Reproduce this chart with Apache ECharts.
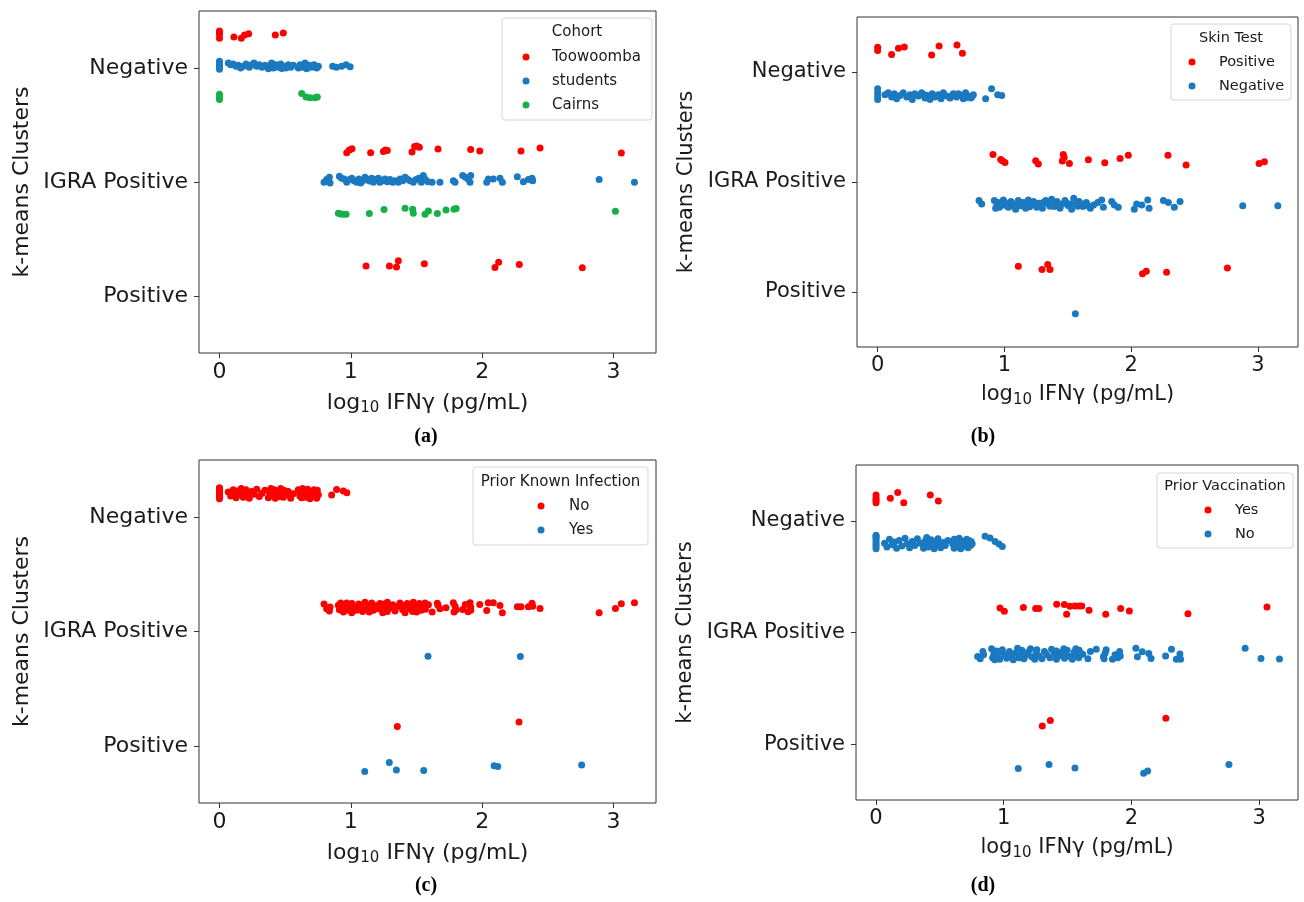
<!DOCTYPE html>
<html>
<head>
<meta charset="utf-8">
<script src="https://cdn.jsdelivr.net/npm/echarts@6/dist/echarts.min.js"></script>
<style>
  html, body { margin: 0; padding: 0; background: #fff; }
  #chart { width: 1304px; height: 902px; }
</style>
</head>
<body>
<div id="chart"></div>
<script>
// categorías del eje y y marcas del eje x
const clusterNames = ['Negative', 'IGRA Positive', 'Positive'];
const clusterTicks = [0, 1, 2];
const xTicks = [0, 1, 2, 3];

// cada punto: [log10 IFNγ, desplazamiento vertical respecto al centro del cluster]
// (a) Cohort
const aNegToowoomba = [[0,-0.325],[0,-0.295],[0,-0.26],[0,-0.31],[0.110,-0.271],[0.166,-0.26],[0.191,-0.289],[0.222,-0.301],[0.425,-0.289],[0.486,-0.307]];
const aNegStudents = [[0,-0.059],[0,-0.035],[0,-0.012],[0,0.012],[0,-0.024],
  [0.067,-0.044],[0.085,-0.029],[0.105,-0.035],[0.126,-0.015],[0.143,-0.024],[0.161,0],[0.181,-0.015],[0.202,-0.035],[0.227,-0.006],[0.245,-0.029],
  [0.263,-0.044],[0.283,-0.015],[0.303,-0.029],[0.324,-0.006],[0.347,-0.024],[0.372,0.006],[0.385,-0.015],[0.392,-0.03],[0.397,-0.044],[0.410,0],
  [0.418,-0.01],[0.430,-0.029],[0.448,-0.006],[0.455,-0.02],[0.466,-0.035],[0.475,0.004],[0.486,-0.015],[0.506,0],[0.524,-0.029],[0.542,-0.006],
  [0.562,-0.024],[0.600,0],[0.612,-0.012],[0.613,-0.029],[0.633,-0.006],[0.645,-0.03],[0.651,-0.044],[0.664,0.006],[0.672,-0.008],[0.684,-0.024],
  [0.702,-0.006],[0.710,-0.02],[0.720,-0.029],[0.728,-0.012],[0.740,0],[0.753,-0.015],[0.862,-0.015],[0.890,-0.006],[0.930,-0.015],[0.964,-0.029],[0.995,-0.012]];
const aNegCairns = [[0,0.230],[0,0.254],[0,0.277],[0.626,0.224],[0.659,0.254],[0.689,0.260],[0.727,0.260],[0.745,0.254]];
const aIgraToowoomba = [[0.969,-0.257],[0.989,-0.280],[1.009,-0.292],[1.151,-0.257],[1.248,-0.268],[1.263,-0.280],[1.278,-0.277],[1.466,-0.263],[1.486,-0.312],
  [1.502,-0.316],[1.522,-0.304],[1.664,-0.289],[1.913,-0.286],[1.982,-0.271],[2.296,-0.271],[2.441,-0.298],[3.060,-0.254]];
const aIgraStudents = [[0.796,0.003],[0.816,-0.021],[0.837,-0.041],[0.842,0.009],[0.913,-0.050],[0.930,-0.032],[0.948,-0.027],[0.969,0.003],[0.989,-0.021],
  [1.007,-0.032],[1.024,-0.012],[1.045,0.003],[1.060,-0.027],[1.075,0.009],[1.090,-0.012],[1.108,-0.041],[1.121,-0.027],[1.141,-0.009],[1.159,-0.032],
  [1.172,0.003],[1.192,-0.021],[1.210,-0.032],[1.222,0.003],[1.243,-0.012],[1.260,-0.027],[1.278,-0.003],[1.299,-0.021],[1.319,0.003],[1.337,-0.012],
  [1.362,0.003],[1.375,-0.027],[1.395,-0.012],[1.413,-0.041],[1.430,-0.027],[1.451,-0.012],[1.476,0.003],[1.497,-0.021],[1.517,-0.032],[1.537,0.003],
  [1.552,-0.056],[1.568,-0.021],[1.588,-0.003],[1.619,0.003],[1.679,0.003],[1.781,-0.012],[1.794,0.003],[1.852,-0.056],[1.872,-0.041],[1.893,-0.027],
  [1.908,0.003],[1.913,-0.056],[2.035,0.003],[2.047,-0.027],[2.085,-0.027],[2.136,-0.032],[2.154,0.003],[2.268,-0.047],[2.314,-0.003],[2.352,-0.021],
  [2.380,-0.032],[2.385,-0.012],[2.891,-0.021],[3.160,0.003]];
const aIgraCairns = [[0.905,0.274],[0.923,0.280],[0.943,0.283],[0.964,0.283],[1.141,0.277],[1.253,0.242],[1.413,0.230],[1.471,0.239],[1.476,0.274],
  [1.565,0.283],[1.591,0.254],[1.659,0.277],[1.725,0.245],[1.786,0.239],[1.802,0.233],[3.015,0.257]];
const aPosToowoomba = [[1.116,-0.263],[1.294,-0.263],[1.348,-0.254],[1.362,-0.310],[1.560,-0.283],[2.098,-0.250],[2.126,-0.295],[2.283,-0.277],[2.763,-0.248]];

// (b) Skin Test
const bNegPositive = [[0,-0.225],[0,-0.195],[0.110,-0.158],[0.164,-0.216],[0.210,-0.228],[0.426,-0.155],[0.485,-0.237],[0.626,-0.246],[0.669,-0.170]];
const bNegNegative = [[0,0.152],[0,0.188],[0,0.219],[0,0.249],
  [0.058,0.207],[0.084,0.188],[0.110,0.228],[0.131,0.198],[0.150,0.243],[0.176,0.213],[0.202,0.188],[0.229,0.228],[0.255,0.207],[0.273,0.249],
  [0.294,0.198],[0.321,0.219],[0.347,0.188],[0.365,0.205],[0.373,0.237],[0.394,0.213],[0.413,0.249],[0.431,0.198],[0.442,0.215],[0.452,0.228],
  [0.479,0.207],[0.490,0.222],[0.500,0.243],[0.518,0.188],[0.544,0.219],[0.571,0.237],[0.585,0.215],[0.597,0.198],[0.623,0.228],[0.635,0.198],
  [0.650,0.207],[0.676,0.243],[0.694,0.188],[0.705,0.232],[0.715,0.219],[0.736,0.237],[0.745,0.222],[0.755,0.207],[0.852,0.243],[0.899,0.152],
  [0.947,0.207],[0.979,0.213]];
const bIgraPositive = [[0.910,-0.250],[0.971,-0.205],[0.984,-0.193],[1.005,-0.178],[1.247,-0.193],[1.268,-0.163],[1.465,-0.250],[1.471,-0.223],[1.457,-0.190],
  [1.513,-0.169],[1.663,-0.202],[1.792,-0.175],[1.913,-0.214],[1.978,-0.244],[2.291,-0.244],[2.434,-0.154],[3.010,-0.169],[3.052,-0.184]];
const bIgraNegative = [[0.800,0.169],[0.821,0.199],[0.921,0.169],[0.931,0.238],[0.940,0.2],[0.952,0.187],[0.960,0.23],[0.973,0.217],[0.992,0.163],
  [1.000,0.18],[1.010,0.199],[1.020,0.215],[1.031,0.229],[1.052,0.178],[1.060,0.195],[1.070,0.208],[1.080,0.23],[1.089,0.247],[1.110,0.169],
  [1.120,0.2],[1.131,0.217],[1.149,0.187],[1.160,0.21],[1.168,0.238],[1.189,0.163],[1.200,0.225],[1.210,0.208],[1.231,0.178],[1.240,0.2],
  [1.255,0.229],[1.273,0.193],[1.290,0.215],[1.300,0.238],[1.310,0.185],[1.326,0.169],[1.347,0.199],[1.360,0.22],[1.373,0.157],[1.394,0.223],
  [1.400,0.2],[1.415,0.178],[1.430,0.215],[1.439,0.238],[1.457,0.199],[1.478,0.169],[1.490,0.19],[1.505,0.217],[1.520,0.2],[1.531,0.247],
  [1.547,0.148],[1.568,0.199],[1.580,0.22],[1.589,0.178],[1.610,0.2],[1.620,0.223],[1.647,0.187],[1.660,0.215],[1.678,0.238],[1.704,0.208],
  [1.736,0.187],[1.768,0.163],[1.781,0.229],[1.847,0.178],[1.868,0.208],[1.899,0.229],[2.025,0.247],[2.044,0.199],[2.084,0.208],[2.131,0.163],
  [2.142,0.238],[2.255,0.169],[2.294,0.187],[2.341,0.229],[2.386,0.178],[2.881,0.217],[3.158,0.217]];
const bPosPositive = [[1.110,-0.234],[1.297,-0.204],[1.342,-0.249],[1.360,-0.204],[2.090,-0.167],[2.120,-0.188],[2.280,-0.179],[2.760,-0.219]];
const bPosNegative = [[1.560,0.197]];

// (c) Prior Known Infection
const cNegNo = [[0,-0.258],[0,-0.243],[0,-0.229],[0,-0.214],[0,-0.2],[0,-0.186],[0,-0.172],[0,-0.16],[0,-0.25],[0,-0.192],
  [0.067,-0.22],[0.085,-0.185],[0.105,-0.24],[0.110,-0.205],[0.126,-0.17],[0.143,-0.23],[0.161,-0.195],[0.166,-0.25],[0.181,-0.175],[0.191,-0.215],
  [0.202,-0.24],[0.222,-0.19],[0.227,-0.165],[0.245,-0.225],[0.263,-0.2],[0.283,-0.245],[0.303,-0.18],[0.324,-0.21],[0.347,-0.235],[0.372,-0.17],
  [0.385,-0.2],[0.392,-0.25],[0.397,-0.22],[0.410,-0.185],[0.418,-0.24],[0.425,-0.165],[0.430,-0.205],[0.448,-0.23],[0.455,-0.18],[0.466,-0.25],
  [0.475,-0.21],[0.486,-0.175],[0.490,-0.235],[0.506,-0.195],[0.524,-0.225],[0.542,-0.165],[0.562,-0.205],[0.600,-0.24],[0.612,-0.185],[0.613,-0.215],
  [0.626,-0.17],[0.633,-0.25],[0.645,-0.2],[0.651,-0.23],[0.659,-0.175],[0.664,-0.21],[0.672,-0.245],[0.684,-0.19],[0.689,-0.16],[0.702,-0.225],
  [0.710,-0.2],[0.720,-0.24],[0.727,-0.18],[0.728,-0.215],[0.740,-0.165],[0.745,-0.235],[0.753,-0.195],[0.854,-0.193],[0.892,-0.242],[0.943,-0.228],
  [0.970,-0.213]];
const cIgraNo = [[0.796,-0.24],[0.816,-0.2],[0.837,-0.18],[0.842,-0.215],[0.905,-0.23],[0.913,-0.19],[0.923,-0.25],[0.930,-0.205],[0.943,-0.17],
  [0.948,-0.235],[0.964,-0.215],[0.969,-0.185],[0.969,-0.25],[0.989,-0.2],[0.989,-0.23],[1.007,-0.165],[1.009,-0.245],[1.024,-0.21],[1.045,-0.185],
  [1.060,-0.24],[1.075,-0.22],[1.090,-0.175],[1.108,-0.255],[1.121,-0.2],[1.141,-0.23],[1.141,-0.17],[1.151,-0.21],[1.159,-0.25],[1.172,-0.185],
  [1.192,-0.225],[1.210,-0.2],[1.222,-0.245],[1.243,-0.165],[1.248,-0.215],[1.253,-0.24],[1.260,-0.19],[1.263,-0.23],[1.278,-0.175],[1.278,-0.255],
  [1.299,-0.205],[1.319,-0.235],[1.337,-0.18],[1.362,-0.22],[1.375,-0.25],[1.395,-0.19],[1.413,-0.225],[1.413,-0.165],[1.430,-0.245],[1.451,-0.2],
  [1.466,-0.235],[1.471,-0.175],[1.476,-0.215],[1.476,-0.255],[1.486,-0.19],[1.497,-0.23],[1.502,-0.17],[1.517,-0.21],[1.522,-0.245],[1.537,-0.185],
  [1.552,-0.225],[1.565,-0.25],[1.568,-0.195],[1.591,-0.235],[1.619,-0.17],[1.659,-0.246],[1.664,-0.23],[1.679,-0.2],[1.725,-0.208],[1.781,-0.251],
  [1.786,-0.170],[1.794,-0.22],[1.802,-0.19],[1.852,-0.193],[1.872,-0.237],[1.893,-0.173],[1.908,-0.251],[1.913,-0.215],[1.913,-0.185],[1.982,-0.237],
  [2.035,-0.184],[2.047,-0.251],[2.085,-0.251],[2.136,-0.228],[2.154,-0.164],[2.268,-0.216],[2.296,-0.216],[2.352,-0.216],[2.380,-0.246],[2.385,-0.22],
  [2.441,-0.202],[2.891,-0.164],[3.015,-0.202],[3.060,-0.243],[3.160,-0.252]];
const cIgraYes = [[1.588,0.216],[2.291,0.218]];
const cPosNo = [[1.354,-0.170],[2.281,-0.208]];
const cPosYes = [[1.106,0.225],[1.293,0.146],[1.347,0.211],[1.555,0.216],[2.091,0.175],[2.119,0.181],[2.758,0.167]];

// (d) Prior Vaccination
const dNegYes = [[0,-0.232],[0,-0.202],[0,-0.163],[0,-0.184],[0.112,-0.202],[0.170,-0.253],[0.217,-0.163],[0.425,-0.232],[0.488,-0.178]];
const dNegNo = [[0,0.13],[0,0.15],[0,0.17],[0,0.19],[0,0.21],[0,0.23],[0,0.25],[0,0.14],
  [0.067,0.2],[0.085,0.235],[0.105,0.165],[0.126,0.215],[0.143,0.19],[0.161,0.245],[0.181,0.175],[0.202,0.225],[0.227,0.155],[0.245,0.205],
  [0.263,0.24],[0.283,0.185],[0.303,0.22],[0.324,0.16],[0.347,0.2],[0.372,0.245],[0.385,0.18],[0.392,0.215],[0.397,0.15],[0.410,0.235],
  [0.418,0.195],[0.430,0.17],[0.448,0.225],[0.455,0.25],[0.466,0.185],[0.475,0.21],[0.486,0.16],[0.506,0.24],[0.524,0.195],[0.542,0.22],
  [0.562,0.175],[0.600,0.205],[0.612,0.245],[0.613,0.165],[0.626,0.215],[0.633,0.19],[0.645,0.235],[0.651,0.155],[0.659,0.2],[0.664,0.25],
  [0.672,0.18],[0.684,0.225],[0.689,0.19],[0.702,0.21],[0.710,0.165],[0.720,0.24],[0.727,0.195],[0.728,0.175],[0.740,0.22],[0.745,0.185],
  [0.753,0.205],[0.854,0.139],[0.893,0.154],[0.932,0.184],[0.963,0.208],[0.989,0.229]];
const dIgraYes = [[0.971,-0.220],[1.005,-0.190],[1.154,-0.223],[1.250,-0.214],[1.276,-0.214],[1.415,-0.253],[1.475,-0.250],[1.493,-0.163],[1.519,-0.235],
  [1.558,-0.238],[1.590,-0.238],[1.611,-0.238],[1.668,-0.199],[1.799,-0.163],[1.916,-0.214],[1.984,-0.193],[2.443,-0.169],[3.062,-0.229]];
const dIgraNo = [[0.796,0.215],[0.816,0.235],[0.837,0.17],[0.842,0.2],[0.905,0.145],[0.913,0.225],[0.923,0.19],[0.930,0.245],[0.943,0.165],
  [0.948,0.21],[0.964,0.18],[0.969,0.24],[0.989,0.155],[1.007,0.2],[1.024,0.23],[1.045,0.17],[1.060,0.215],[1.075,0.245],[1.090,0.185],
  [1.108,0.14],[1.121,0.225],[1.141,0.195],[1.141,0.16],[1.159,0.235],[1.172,0.205],[1.192,0.175],[1.210,0.145],[1.222,0.22],[1.243,0.24],
  [1.253,0.19],[1.260,0.155],[1.278,0.21],[1.299,0.235],[1.319,0.17],[1.337,0.2],[1.362,0.225],[1.375,0.15],[1.395,0.19],[1.413,0.24],
  [1.413,0.165],[1.430,0.21],[1.451,0.18],[1.471,0.145],[1.476,0.23],[1.476,0.2],[1.497,0.16],[1.517,0.215],[1.537,0.24],[1.552,0.175],
  [1.565,0.145],[1.568,0.205],[1.588,0.225],[1.591,0.16],[1.619,0.195],[1.659,0.235],[1.679,0.17],[1.725,0.15],[1.781,0.215],[1.786,0.235],
  [1.794,0.185],[1.802,0.155],[1.852,0.24],[1.872,0.2],[1.893,0.225],[1.908,0.17],[1.913,0.21],
  [2.035,0.142],[2.047,0.217],[2.085,0.172],[2.136,0.187],[2.154,0.232],[2.268,0.211],[2.314,0.151],[2.352,0.240],[2.380,0.193],[2.385,0.240],
  [2.891,0.142],[3.015,0.232],[3.160,0.237]];
const dPosYes = [[1.302,-0.163],[1.365,-0.211],[2.270,-0.232]];
const dPosNo = [[1.114,0.217],[1.355,0.181],[1.558,0.214],[2.096,0.260],[2.127,0.241],[2.764,0.181]];

const RED = '#ff0000';
const BLUE = '#1b79c0';
const GREEN = '#16b047';
const FONT = 'DejaVu Sans';

// pasa [x, dy] a coordenadas del eje: cluster + dy
function enCluster(cluster, puntos) {
    return puntos.map(p => [p[0], cluster + p[1]]);
}
function juntar(neg, igra, pos) {
    return [].concat(enCluster(0, neg || []), enCluster(1, igra || []), enCluster(2, pos || []));
}

const panels = [
    {
        grid: { left: 199, top: 11, width: 457, height: 342 },
        xMin: -0.156, xMax: 3.324, fs: 22, lfs: 15, yGap: 166, xGap: 37, tag: '(a)', tagX: 426, tagY: 437,
        title: 'Cohort', box: [502, 18, 150, 102], titleY: 32, iconX: 526, textX: 552, legTop: 48,
        series: [
            { name: 'Toowoomba', color: RED, data: juntar(aNegToowoomba, aIgraToowoomba, aPosToowoomba) },
            { name: 'students', color: BLUE, data: juntar(aNegStudents, aIgraStudents) },
            { name: 'Cairns', color: GREEN, data: juntar(aNegCairns, aIgraCairns) }
        ]
    },
    {
        grid: { left: 857, top: 17, width: 441, height: 330 },
        xMin: -0.163, xMax: 3.317, fs: 21, lfs: 14.5, yGap: 160, xGap: 35, tag: '(b)', tagX: 983, tagY: 437,
        title: 'Skin Test', box: [1171, 24, 120, 76], titleY: 38, iconX: 1192, textX: 1219, legTop: 53,
        series: [
            { name: 'Positive', color: RED, data: juntar(bNegPositive, bIgraPositive, bPosPositive) },
            { name: 'Negative', color: BLUE, data: juntar(bNegNegative, bIgraNegative, bPosNegative) }
        ]
    },
    {
        grid: { left: 199, top: 460, width: 457, height: 343 },
        xMin: -0.156, xMax: 3.324, fs: 22, lfs: 15, yGap: 166, xGap: 37, tag: '(c)', tagX: 426, tagY: 886,
        title: 'Prior Known Infection', box: [473, 467, 175, 78], titleY: 482, iconX: 541, textX: 569, legTop: 497,
        series: [
            { name: 'No', color: RED, data: juntar(cNegNo, cIgraNo, cPosNo) },
            { name: 'Yes', color: BLUE, data: juntar([], cIgraYes, cPosYes) }
        ]
    },
    {
        grid: { left: 856, top: 465, width: 442, height: 335 },
        xMin: -0.157, xMax: 3.305, fs: 21, lfs: 14.5, yGap: 160, xGap: 35, tag: '(d)', tagX: 983, tagY: 886,
        title: 'Prior Vaccination', box: [1157, 473, 136, 75], titleY: 486, iconX: 1208, textX: 1235, legTop: 501,
        series: [
            { name: 'Yes', color: RED, data: juntar(dNegYes, dIgraYes, dPosYes) },
            { name: 'No', color: BLUE, data: juntar(dNegNo, dIgraNo, dPosNo) }
        ]
    }
];

const option = {
    animation: false,
    backgroundColor: '#fff',
    grid: panels.map(p => Object.assign({ show: true, borderColor: '#333', borderWidth: 1, backgroundColor: '#fff' }, p.grid)),
    xAxis: panels.map((p, i) => ({
        gridIndex: i,
        type: 'value',
        min: p.xMin,
        max: p.xMax,
        axisLine: { show: false, onZero: false },
        splitLine: { show: false },
        axisTick: { show: true, customValues: xTicks, length: 5, lineStyle: { color: '#333' } },
        axisLabel: { customValues: xTicks, fontSize: p.fs, fontFamily: FONT, color: '#1a1a1a', margin: 8 },
        name: '{b|log}{s|10}{b| IFNγ (pg/mL)}',
        nameLocation: 'middle',
        nameGap: p.xGap,
        nameTextStyle: {
            fontFamily: FONT,
            rich: {
                b: { fontSize: p.fs, fontFamily: FONT, color: '#1a1a1a', lineHeight: 26, verticalAlign: 'middle' },
                s: { fontSize: Math.round(p.fs * 0.7), fontFamily: FONT, color: '#1a1a1a', verticalAlign: 'bottom' }
            }
        }
    })),
    yAxis: panels.map((p, i) => ({
        gridIndex: i,
        type: 'value',
        inverse: true,
        min: -0.5,
        max: 2.5,
        axisLine: { show: false, onZero: false },
        splitLine: { show: false },
        axisTick: { show: true, customValues: clusterTicks, length: 5, lineStyle: { color: '#333' } },
        axisLabel: {
            customValues: clusterTicks,
            formatter: v => clusterNames[Math.round(v)],
            fontSize: p.fs, fontFamily: FONT, color: '#1a1a1a', margin: 11
        },
        name: 'k-means Clusters',
        nameLocation: 'middle',
        nameRotate: 90,
        nameGap: p.yGap,
        nameTextStyle: { fontSize: p.fs, fontFamily: FONT, color: '#1a1a1a' }
    })),
    legend: panels.map(p => ({
        data: p.series.map(s => ({ name: s.name, itemStyle: { color: s.color } })),
        orient: 'vertical',
        left: p.iconX - 3.5,
        top: p.legTop,
        icon: 'circle',
        itemWidth: 7,
        itemHeight: 7,
        itemGap: 6,
        padding: 0,
        selectedMode: false,
        textStyle: {
            fontSize: p.lfs, fontFamily: FONT, color: '#1a1a1a', lineHeight: 18,
            padding: [0, 0, 0, p.textX - (p.iconX + 3.5 + 5)]
        }
    })),
    graphic: [].concat(
        panels.map(p => ({
            type: 'rect', z: 3,
            shape: { x: p.box[0], y: p.box[1], width: p.box[2], height: p.box[3], r: 3 },
            style: { fill: 'rgba(255,255,255,0.85)', stroke: '#d6d6d6', lineWidth: 1 }
        })),
        panels.map(p => ({
            type: 'text', z: 4,
            x: p.box[0] + p.box[2] / 2, y: p.titleY,
            style: { text: p.title, font: p.lfs + 'px "DejaVu Sans"', fill: '#1a1a1a', textAlign: 'center', textVerticalAlign: 'middle' }
        })),
        panels.map(p => ({
            type: 'text',
            x: p.tagX, y: p.tagY,
            style: { text: p.tag, font: 'bold 20px "Liberation Serif"', fill: '#000', textAlign: 'center', textVerticalAlign: 'middle' }
        }))
    ),
    series: [].concat(...panels.map((p, i) => p.series.map(s => ({
        type: 'scatter',
        name: s.name,
        xAxisIndex: i,
        yAxisIndex: i,
        symbolSize: 7,
        itemStyle: { color: s.color, opacity: 1 },
        data: s.data
    }))))
};

const chart = echarts.init(document.getElementById('chart'));
chart.setOption(option);
</script>
</body>
</html>
